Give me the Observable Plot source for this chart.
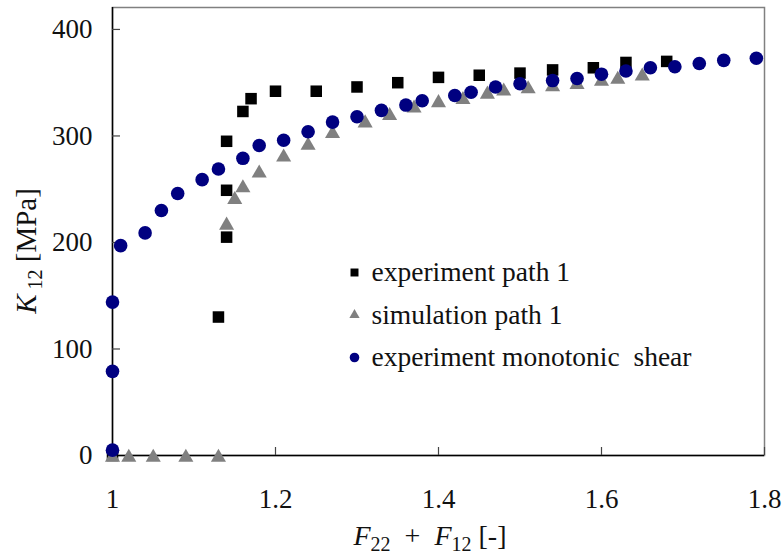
<!DOCTYPE html>
<html>
<head>
<meta charset="utf-8">
<script src="https://cdn.jsdelivr.net/npm/d3@7"></script>
<script src="https://cdn.jsdelivr.net/npm/@observablehq/plot@0.6"></script>
<style>
  body { margin: 0; background: #fff; }
  #chart svg text { white-space: pre; font-family: "Liberation Serif", serif; }
</style>
</head>
<body>
<div id="chart"></div>
<script>
// Axis ticks
const xTicks = [1, 1.2, 1.4, 1.6, 1.8];
const yTicks = [0, 100, 200, 300, 400];
const xDomain = [1, 1.8];
const yDomain = [0, 420.6];

// Series names (legend order)
const seriesNames = ["experiment path 1", "simulation path 1", "experiment monotonic  shear"];

// experiment path 1: F22 + F12 [-] and K12 [MPa]
const expPathX = [1.00, 1.13, 1.14, 1.14, 1.14, 1.16, 1.17, 1.20, 1.25, 1.30, 1.35, 1.40, 1.45, 1.50, 1.54, 1.59, 1.63, 1.68];
const expPathY = [0, 130, 205, 249, 295, 323, 335, 342, 342, 346, 350, 355, 357, 359, 362, 364, 369, 370];

// simulation path 1
const simPathX = [1.00, 1.02, 1.05, 1.09, 1.13, 1.14, 1.15, 1.16, 1.18, 1.21, 1.24, 1.27, 1.31, 1.34, 1.37, 1.40, 1.43, 1.46, 1.48, 1.51, 1.54, 1.57, 1.60, 1.62, 1.65];
const simPathY = [0, 0, 0, 0, 0, 218, 242, 253, 267, 282, 293, 304, 314, 321, 328, 333, 336, 341, 344, 346, 348, 350, 353, 355, 358];

// experiment monotonic shear
const monoX = [1.00, 1.00, 1.00, 1.01, 1.04, 1.06, 1.08, 1.11, 1.13, 1.16, 1.18, 1.21, 1.24, 1.27, 1.30, 1.33, 1.36, 1.38, 1.42, 1.44, 1.47, 1.50, 1.54, 1.57, 1.60, 1.63, 1.66, 1.69, 1.72, 1.75, 1.79];
const monoY = [5, 79, 144, 197, 209, 230, 246, 259, 269, 279, 291, 296, 304, 313, 318, 324, 329, 333, 338, 341, 346, 349, 352, 354, 358, 361, 364, 365, 368, 371, 373];

const zip = (xs, ys) => xs.map((x, i) => ({x, y: ys[i]}));
const expPath = zip(expPathX, expPathY);
const simPath = zip(simPathX, simPathY);
const mono = zip(monoX, monoY);

const font = "Liberation Serif";
const W = 782, H = 555;
const M = {left: 112, right: 18, top: 7, bottom: 100};

// marker styles per series
const styles = [
  {symbol: "square", fill: "#000000", r: 6.5, lr: 4.5},
  {symbol: "triangle", fill: "#808080", r: 5.6, lr: 3.8},
  {symbol: "circle", fill: "#000080", r: 6.8, lr: 4.8}
];

// axis titles with subscripts
function axisTitles(index, scales, values, dimensions) {
  const {width, height, marginLeft, marginRight, marginTop, marginBottom} = dimensions;
  const g = d3.create("svg:g").attr("fill", "#111");
  const cx = (marginLeft + width - marginRight) / 2;
  const xt = g.append("text").attr("x", cx - 8).attr("y", height - 10)
    .attr("text-anchor", "middle").attr("font-size", 28);
  xt.append("tspan").attr("font-style", "italic").text("F");
  xt.append("tspan").attr("font-size", 20).attr("dy", 6).text("22");
  xt.append("tspan").attr("dy", -6).text("  +  ");
  xt.append("tspan").attr("font-style", "italic").text("F");
  xt.append("tspan").attr("font-size", 20).attr("dy", 6).text("12");
  xt.append("tspan").attr("dy", -6).text(" [-]");

  const cy = (marginTop + height - marginBottom) / 2 + 20;
  const yt = g.append("text").attr("transform", `translate(36,${cy}) rotate(-90)`)
    .attr("text-anchor", "middle").attr("font-size", 29);
  yt.append("tspan").attr("font-style", "italic").text("K");
  yt.append("tspan").attr("font-size", 20).attr("dy", 6).text(" 12");
  yt.append("tspan").attr("dy", -6).text(" [MPa]");
  return g.node();
}

// legend rows inside the plot area
const legendMarks = seriesNames.flatMap((name, i) => [
  Plot.dot([name], {
    frameAnchor: "top-left", dx: 242, dy: 265 + i * 42.5,
    symbol: styles[i].symbol, r: styles[i].lr, fill: styles[i].fill, stroke: "none"
  }),
  Plot.text([name], {
    text: d => d, frameAnchor: "top-left", dx: 259, dy: 265 + i * 42.5,
    textAnchor: "start", lineAnchor: "middle", fontSize: 27.5, fontFamily: font, fill: "#111"
  })
]);

const chart = Plot.plot({
  width: W,
  height: H,
  marginLeft: M.left,
  marginRight: M.right,
  marginTop: M.top,
  marginBottom: M.bottom,
  style: {fontFamily: font, fontSize: "27px", color: "#111", background: "#fff"},
  x: {domain: xDomain},
  y: {domain: yDomain},
  marks: [
    Plot.frame({stroke: "#808080", strokeWidth: 1.5}),
    Plot.ruleX([xDomain[0]], {stroke: "#000", strokeWidth: 1.5}),
    Plot.ruleY([yDomain[0]], {stroke: "#000", strokeWidth: 1.5}),
    // inward tick marks
    Plot.axisX(xTicks.slice(1), {tickSize: 8, dy: -8, tickFormat: () => "", label: null, stroke: "#444", strokeWidth: 1.2}),
    Plot.axisY(yTicks.slice(1), {tickSize: 8, dx: 8, tickFormat: () => "", label: null, stroke: "#444", strokeWidth: 1.2}),
    // tick labels
    Plot.axisX(xTicks, {tickSize: 0, tickPadding: 33, tickFormat: d => String(d), label: null, fontSize: 27, fontFamily: font}),
    Plot.axisY(yTicks, {tickSize: 0, tickPadding: 20, tickFormat: d => String(d), label: null, fontSize: 27, fontFamily: font}),
    // data
    Plot.dot(expPath, {x: "x", y: "y", symbol: styles[0].symbol, r: styles[0].r, fill: styles[0].fill, stroke: "none"}),
    Plot.dot(simPath, {x: "x", y: "y", symbol: styles[1].symbol, r: styles[1].r, fill: styles[1].fill, stroke: "none", dy: 2}),
    Plot.dot(mono, {x: "x", y: "y", symbol: styles[2].symbol, r: styles[2].r, fill: styles[2].fill, stroke: "none"}),
    ...legendMarks,
    axisTitles
  ]
});

document.getElementById("chart").appendChild(chart);
</script>
</body>
</html>
